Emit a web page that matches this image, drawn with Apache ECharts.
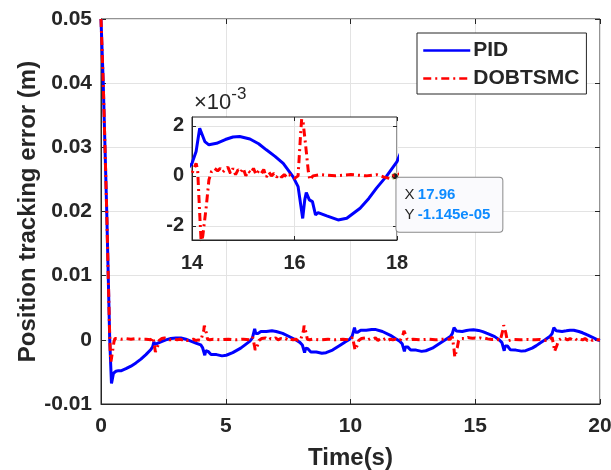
<!DOCTYPE html>
<html>
<head>
<meta charset="utf-8">
<script src="https://cdn.jsdelivr.net/npm/echarts@6/dist/echarts.min.js"></script>
<style>
html,body{margin:0;padding:0;background:#fff;}
#chart{width:611px;height:470px;}
</style>
</head>
<body>
<div id="chart"></div>
<script>
// ---- data: [time (s), error (m)] ----
const pidData = [
 [0,0.05],[0.09,0.04],[0.16,0.03],[0.23,0.02],[0.29,0.01],[0.35,0.0],[0.39,-0.004],[0.42,-0.0068],[0.45,-0.0062],[0.5,-0.0052],
 [0.6,-0.0049],[0.7,-0.0048],[0.76,-0.0045],[0.82,-0.0048],[0.9,-0.0047],[1.0,-0.0045],[1.2,-0.0041],[1.4,-0.0036],[1.6,-0.003],
 [1.8,-0.0023],[2.0,-0.0015],[2.07,-0.0011],[2.12,-0.0003],[2.16,-0.0007],[2.22,-0.0006],[2.4,-0.0003],[2.6,0.0],[2.8,0.0002],
 [3.0,0.0003],[3.2,0.0003],[3.4,0.0001],[3.6,-0.0002],[3.8,-0.0005],[4.0,-0.0008],[4.07,-0.0012],
 [4.16,-0.0024],[4.2,-0.0017],[4.23,-0.0015],[4.29,-0.0018],[4.35,-0.0019],[4.41,-0.0023],[4.46,-0.0022],[4.63,-0.0023],
 [4.85,-0.0025],[5.02,-0.0024],[5.28,-0.002],[5.6,-0.0013],[5.8,-0.0007],[5.97,-0.0002],[6.07,0.0003],
 [6.16,0.0017],[6.2,0.001],[6.23,0.0008],[6.29,0.001],[6.35,0.0011],[6.41,0.0013],[6.46,0.0012],[6.63,0.0013],[6.85,0.0014],
 [7.02,0.0013],[7.28,0.001],[7.6,0.0004],[7.8,0.0],[7.97,-0.0004],[8.07,-0.0008],
 [8.16,-0.002],[8.2,-0.0013],[8.23,-0.0011],[8.29,-0.0014],[8.35,-0.0015],[8.41,-0.0019],[8.46,-0.0018],[8.63,-0.0019],
 [8.85,-0.0021],[9.02,-0.002],[9.28,-0.0016],[9.6,-0.0008],[9.8,-0.0003],[9.97,0.0001],[10.07,0.0006],
 [10.16,0.0019],[10.2,0.0012],[10.23,0.001],[10.29,0.0012],[10.35,0.0013],[10.41,0.0015],[10.46,0.0014],[10.63,0.0015],
 [10.85,0.0016],[11.02,0.0016],[11.28,0.0013],[11.6,0.0007],[11.8,0.0002],[11.97,-0.0002],[12.07,-0.0006],
 [12.16,-0.0018],[12.2,-0.0011],[12.23,-0.0008],[12.29,-0.0011],[12.35,-0.0012],[12.41,-0.0016],[12.46,-0.0015],[12.63,-0.0016],
 [12.85,-0.0018],[13.02,-0.0017],[13.28,-0.0013],[13.6,-0.0005],[13.8,0.0],[14.0,0.0005],
 [14.08,0.00097],[14.15,0.0019],[14.18,0.00184],[14.25,0.00137],[14.33,0.00124],[14.48,0.0013],[14.65,0.00145],[14.8,0.00155],
 [14.93,0.00157],[15.13,0.00147],[15.3,0.00128],[15.45,0.00104],[15.62,0.00078],[15.78,0.0005],[15.97,-0.00003],[16.07,-0.00043],
 [16.16,-0.0017],[16.2,-0.00096],[16.23,-0.00067],[16.29,-0.00096],[16.35,-0.00103],[16.41,-0.00156],[16.46,-0.00147],[16.63,-0.0016],
 [16.85,-0.00176],[17.02,-0.00169],[17.28,-0.00129],[17.45,-0.0009],[17.6,-0.00049],[17.8,0.0],[18.0,0.00057],
 [18.08,0.00097],[18.15,0.0019],[18.18,0.0018],[18.25,0.0014],[18.33,0.0012],[18.48,0.0013],[18.65,0.0014],[18.8,0.0015],
 [18.95,0.0015],[19.15,0.0013],[19.3,0.0011],[19.47,0.0008],[19.7,0.0004],[19.9,0.0],[20.0,-0.0001]
];
const smcData = [
 [0,0.05],[0.09,0.04],[0.16,0.03],[0.23,0.02],[0.29,0.01],[0.34,0.002],[0.37,-0.0018],[0.4,-0.0034],[0.43,-0.0031],[0.47,-0.0016],
 [0.52,-0.0003],[0.56,0.0002],[0.65,0.0002],[0.8,0.0001],[1.0,0.0002],[1.2,0.0001],[1.4,0.0002],[1.6,0.0001],[1.8,0.0001],[2.0,0.0],
 [2.06,0.0001],[2.08,0.0004],[2.11,0.0001],[2.15,-0.0011],[2.18,-0.0019],[2.21,-0.0018],[2.28,-0.0009],[2.33,-0.0001],[2.38,0.0001],
 [2.44,0.0002],[2.5,0.0001],[2.55,0.0003],[2.6,0.0001],[2.65,0.0002],[2.7,0.0003],[2.75,0.0],[2.8,0.0003],[2.85,0.0],[2.9,0.0002],
 [2.95,0.0001],[3.0,0.0003],[3.05,0.0],[3.1,0.0002],[3.15,0.0001],[3.2,0.0003],[3.25,0.0],[3.3,0.0002],[3.35,0.0001],[3.4,0.0002],
 [3.45,-0.0001],[3.5,0.0001],[3.6,0.0],[3.7,0.0001],[3.8,-0.0001],[3.9,0.0],[4.0,-0.0001],
 [4.07,0.0],[4.12,0.0015],[4.14,0.0022],[4.17,0.002],[4.22,0.0011],[4.27,0.0001],[4.3,-0.0002],[4.36,0.0],[4.5,0.0001],[4.8,0.0],
 [5.1,0.0001],[5.4,0.0],[5.7,0.0001],[6.0,0.0],
 [6.06,0.0001],[6.08,0.0004],[6.11,0.0001],[6.15,-0.0009],[6.18,-0.0016],[6.21,-0.0015],[6.28,-0.0008],[6.33,-0.0001],[6.38,0.0001],
 [6.44,0.0002],[6.5,0.0001],[6.6,0.0003],[6.7,0.0],[6.8,0.0002],[6.9,0.0001],[7.0,0.0003],[7.1,0.0],[7.2,0.0002],[7.3,0.0001],
 [7.4,0.0002],[7.5,-0.0001],[7.6,0.0001],[7.7,0.0],[7.8,0.0001],[7.9,-0.0001],[8.0,0.0],
 [8.07,0.0],[8.12,0.0015],[8.14,0.0022],[8.17,0.002],[8.22,0.0011],[8.27,0.0001],[8.3,-0.0002],[8.36,0.0],[8.5,0.0001],[8.8,0.0],
 [9.1,0.0001],[9.4,0.0],[9.7,0.0001],[10.0,0.0],
 [10.06,0.0001],[10.08,0.0004],[10.11,0.0001],[10.15,-0.0009],[10.18,-0.0016],[10.21,-0.0015],[10.28,-0.0008],[10.33,-0.0001],
 [10.38,0.0001],[10.44,0.0002],[10.5,0.0],[10.6,0.0003],[10.7,0.0],[10.8,0.0002],[10.9,0.0001],[11.0,0.0003],[11.1,-0.0001],
 [11.2,0.0002],[11.3,0.0],[11.4,0.0002],[11.5,-0.0001],[11.6,0.0001],[11.7,0.0],[11.8,0.0001],[11.9,-0.0001],[12.0,0.0],
 [12.07,0.0],[12.12,0.001],[12.14,0.0014],[12.17,0.0013],[12.22,0.0007],[12.27,0.0001],[12.3,-0.0002],[12.36,0.0],[12.5,0.0001],
 [12.8,0.0],[13.1,0.0001],[13.4,0.0],[13.7,0.0001],[14.0,0.0001],
 [14.08,0.0005],[14.11,0.00024],[14.15,-0.0015],[14.18,-0.0027],[14.21,-0.0024],[14.28,-0.0012],[14.33,-0.00016],[14.38,0.00017],
 [14.44,0.0003],[14.5,0.0002],[14.55,0.0003],[14.6,0.00015],[14.65,0.00025],[14.7,0.00035],[14.75,0.0001],[14.8,0.0003],
 [14.85,0.00005],[14.9,0.00025],[14.95,0.00015],[15.0,0.0003],[15.05,0.0],[15.1,0.0002],[15.15,0.0001],[15.2,0.0003],
 [15.25,0.00005],[15.3,0.0002],[15.35,0.0001],[15.4,0.00025],[15.45,-0.00005],[15.5,0.00015],[15.55,0.0],[15.6,0.0001],
 [15.65,-0.00005],[15.7,0.00005],[15.75,-0.00005],[15.8,0.00005],[15.85,-0.00005],[15.9,0.00005],[15.95,-0.00005],[16.0,-0.0001],
 [16.07,0.0],[16.12,0.0017],[16.14,0.00227],[16.17,0.0021],[16.22,0.00117],[16.27,0.00017],[16.3,-0.00016],[16.36,0.0],
 [16.5,0.00005],[16.8,0.0],[17.1,0.00005],[17.4,0.0],[17.6,0.00005],[17.75,-0.00005],[17.85,-0.0001],[17.92,0.0],[18.0,0.0],
 [18.06,0.0001],[18.08,0.0004],[18.11,0.0001],[18.15,-0.001],[18.18,-0.0018],[18.21,-0.0017],[18.28,-0.0008],[18.33,-0.0001],
 [18.38,0.0001],[18.44,0.0002],[18.5,0.0],[18.6,0.0002],[18.7,0.0],[18.8,0.0002],[18.9,0.0],[19.0,0.0002],[19.1,-0.0001],
 [19.2,0.0001],[19.3,0.0],[19.4,0.0002],[19.5,-0.0001],[19.6,0.0001],[19.7,-0.0001],[19.8,0.0001],[19.9,0.0],[20.0,0.0]
];
const seriesNames = ['PID', 'DOBTSMC'];
const insetYTicks = [-0.002, 0, 0.002];
const insetXRange = [14, 18];
const insetYRange = [-0.00256, 0.00235];
const tipPoint = [17.96, -1.145e-05];

// ---- styling ----
const FONT = "'Liberation Sans', Arial, Helvetica, sans-serif";
const TXT = '#262626';
const GRIDC = '#e3e3e3';
const BLUE = '#0000ff', RED = '#ff0000';
const DASHDOT = [8, 4, 2, 4];

function fmtExp(v) {
  return v.toExponential(3).replace(/e([+-])(\d)$/, 'e$10$2');
}

const lbl = (size) => ({ fontFamily: FONT, fontWeight: 'bold', fontSize: size, color: TXT });

const chart = echarts.init(document.getElementById('chart'), null, { renderer: 'canvas' });

const option = {
  animation: false,
  backgroundColor: '#fff',
  grid: [
    { left: 101, top: 19, right: 11, bottom: 66, outerBoundsMode: 'none', containLabel: false,
      show: true, borderColor: TXT, borderWidth: 1, backgroundColor: '#fff', z: 0 },
    { left: 192, top: 117, width: 205, height: 123, outerBoundsMode: 'none', containLabel: false,
      show: true, borderColor: TXT, borderWidth: 1, backgroundColor: '#fff', z: 3 }
  ],
  legend: {
    data: seriesNames,
    orient: 'vertical',
    left: 417, top: 33,
    padding: [7, 7, 5, 5],
    itemGap: 7,
    itemWidth: 47, itemHeight: 14,
    backgroundColor: '#fff',
    borderColor: TXT, borderWidth: 1, borderRadius: 0,
    lineStyle: { width: 2.5 },
    itemStyle: { color: 'rgba(0,0,0,0)', borderWidth: 0, opacity: 0 },
    textStyle: Object.assign(lbl(21), { padding: [0, 0, 0, -2] }),
    z: 8
  },
  xAxis: [
    { type: 'value', gridIndex: 0, min: 0, max: 20, interval: 5,
      name: 'Time(s)', nameLocation: 'middle', nameGap: 42, nameMoveOverlap: false, nameTextStyle: lbl(24),
      axisLine: { show: true, onZero: false, lineStyle: { color: TXT, width: 1 } },
      axisTick: { show: true, inside: true, length: 5, lineStyle: { color: TXT } },
      axisLabel: Object.assign(lbl(21), { margin: 12 }),
      splitLine: { show: true, lineStyle: { color: GRIDC, width: 1 } } },
    { type: 'value', gridIndex: 1, min: insetXRange[0], max: insetXRange[1], interval: 2, z: 4,
      axisLine: { show: true, onZero: false, lineStyle: { color: TXT, width: 1 } },
      axisTick: { show: true, inside: true, length: 4, lineStyle: { color: TXT } },
      axisLabel: Object.assign(lbl(20), { margin: 13 }),
      splitLine: { show: true, lineStyle: { color: GRIDC, width: 1 } } },
    { type: 'value', gridIndex: 0, position: 'top', min: 0, max: 20, interval: 5,
      axisLine: { show: false, onZero: false }, axisLabel: { show: false }, splitLine: { show: false },
      axisTick: { show: true, inside: true, length: 5, lineStyle: { color: TXT } } },
    { type: 'value', gridIndex: 1, position: 'top', min: insetXRange[0], max: insetXRange[1], interval: 2, z: 4,
      axisLine: { show: false, onZero: false }, axisLabel: { show: false }, splitLine: { show: false },
      axisTick: { show: true, inside: true, length: 4, lineStyle: { color: TXT } } }
  ],
  yAxis: [
    { type: 'value', gridIndex: 0, min: -0.01, max: 0.05, interval: 0.01,
      name: 'Position tracking error (m)', nameLocation: 'middle', nameGap: 61, nameMoveOverlap: false, nameTextStyle: lbl(24),
      axisLine: { show: true, onZero: false, lineStyle: { color: TXT, width: 1 } },
      axisTick: { show: true, inside: true, length: 5, lineStyle: { color: TXT } },
      axisLabel: Object.assign(lbl(21), { margin: 9, formatter: v => String(+v.toFixed(2)) }),
      splitLine: { show: true, lineStyle: { color: GRIDC, width: 1 } } },
    { type: 'value', gridIndex: 1, min: insetYRange[0], max: insetYRange[1], z: 4,
      name: '{x|×10}{s|-3}', nameLocation: 'end', nameGap: 3, nameMoveOverlap: false,
      nameTextStyle: {
        align: 'left', padding: [0, 0, 0, 2],
        rich: {
          x: { fontFamily: FONT, fontSize: 22, color: TXT, verticalAlign: 'bottom', lineHeight: 28 },
          s: { fontFamily: FONT, fontSize: 17, color: TXT, verticalAlign: 'top', lineHeight: 28, padding: [0, 0, 10, 0] }
        }
      },
      axisLine: { show: true, onZero: false, lineStyle: { color: TXT, width: 1 } },
      axisTick: { show: true, inside: true, length: 4, customValues: insetYTicks, lineStyle: { color: TXT } },
      axisLabel: Object.assign(lbl(20), { margin: 8, customValues: insetYTicks, formatter: v => String(Math.round(v * 1000)) }),
      splitLine: { show: true, lineStyle: { color: GRIDC, width: 1 } } },
    { type: 'value', gridIndex: 0, position: 'right', min: -0.01, max: 0.05, interval: 0.01,
      axisLine: { show: false, onZero: false }, axisLabel: { show: false }, splitLine: { show: false },
      axisTick: { show: true, inside: true, length: 5, lineStyle: { color: TXT } } },
    { type: 'value', gridIndex: 1, position: 'right', min: insetYRange[0], max: insetYRange[1], z: 4,
      axisLine: { show: false, onZero: false }, axisLabel: { show: false }, splitLine: { show: false },
      axisTick: { show: true, inside: true, length: 4, customValues: insetYTicks, lineStyle: { color: TXT } } }
  ],
  series: [
    { name: seriesNames[0], type: 'line', xAxisIndex: 0, yAxisIndex: 0, data: pidData, symbol: 'none',
      lineStyle: { color: BLUE, width: 3 }, itemStyle: { color: BLUE }, z: 2 },
    { name: seriesNames[1], type: 'line', xAxisIndex: 0, yAxisIndex: 0, data: smcData, symbol: 'none',
      lineStyle: { color: RED, width: 3, type: DASHDOT }, itemStyle: { color: RED }, z: 2 },
    { name: seriesNames[0], type: 'line', xAxisIndex: 1, yAxisIndex: 1, data: pidData, symbol: 'none', clip: true,
      lineStyle: { color: BLUE, width: 3 }, itemStyle: { color: BLUE }, z: 5 },
    { name: seriesNames[1], type: 'line', xAxisIndex: 1, yAxisIndex: 1, data: smcData, symbol: 'none', clip: true,
      lineStyle: { color: RED, width: 3, type: DASHDOT }, itemStyle: { color: RED }, z: 6,
      markPoint: {
        symbol: 'circle', symbolSize: 7, silent: true,
        itemStyle: { color: '#1a1a1a', borderColor: '#ffffcc', borderWidth: 1 },
        data: [{ coord: tipPoint }],
        label: {
          show: true, position: [5.5, 5.5],
          formatter: () => '{k|X} {v|' + tipPoint[0] + '}\n{k|Y} {v|' + fmtExp(tipPoint[1]) + '}',
          backgroundColor: '#fafafd', borderColor: '#8a8a8a', borderWidth: 1, borderRadius: 3,
          padding: [7, 12, 7, 8],
          rich: {
            k: { fontFamily: FONT, fontSize: 15, color: TXT, lineHeight: 20 },
            v: { fontFamily: FONT, fontSize: 15, fontWeight: 'bold', color: '#0d8bff', lineHeight: 20 }
          }
        }
      } }
  ]
};
chart.setOption(option);
</script>
</body>
</html>
